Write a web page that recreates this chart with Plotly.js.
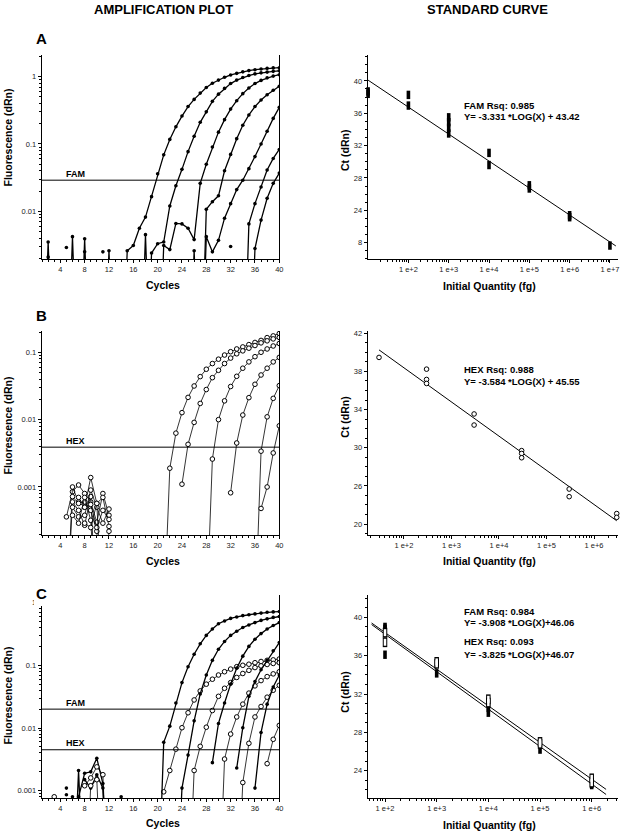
<!DOCTYPE html>
<html><head><meta charset="utf-8">
<script src="https://cdn.plot.ly/plotly-3.0.1.min.js"></script>
<style>html,body{margin:0;padding:0;background:#fff;}#chart{width:620px;height:833px;}</style>
</head><body><div id="chart"></div>
<script>
// ---------- DATA ----------
const LOW = 1e-5; // reading that falls below the axis floor

// Panel A amplification (FAM) : first cycle + fluorescence values per cycle
const ampA1 = {start:14, v:[LOW,0.0026,0.0031,0.0056,0.0082,0.0165,0.036,0.069,0.117,0.18,0.26,0.36,0.46,0.57,0.69,0.80,0.89,0.98,1.06,1.12,1.18,1.23,1.27,1.30,1.33,1.35,1.36]};
const ampA2 = {start:18, v:[LOW,0.0024,0.0033,0.0035,0.012,0.024,0.042,0.077,0.13,0.21,0.30,0.43,0.55,0.67,0.79,0.89,0.97,1.04,1.10,1.14,1.17,1.20,1.22]};
const ampA3 = {start:20, v:[LOW,0.0031,0.0027,0.0066,0.0065,0.0056,0.0038,0.026,0.05,0.09,0.15,0.23,0.33,0.44,0.56,0.68,0.79,0.88,0.96,1.02,1.07]};
const ampA4 = {start:25, v:[LOW,0.0026,LOW,0.0107,0.0139,0.017,0.04,0.07,0.12,0.19,0.27,0.36,0.45,0.54,0.63,0.72]};
const ampA5 = {start:27, v:[LOW,0.0042,0.0025,0.0037,0.0079,0.013,0.021,0.029,0.043,0.065,0.10,0.155,0.24,0.35]};
const ampA6 = {start:34, v:[LOW,0.0065,0.013,0.023,0.041,0.061,0.083]};
const ampA7 = {start:35, v:[LOW,0.0028,0.0074,0.0156,0.026,0.037]};
const noiseA = [
  {start:1, v:[LOW,0.0035,LOW]}, {start:2, v:[0.0021]}, {start:5, v:[0.0029]},
  {start:5, v:[LOW,0.0042,LOW]}, {start:7, v:[LOW,0.0039,LOW]}, {start:8, v:[0.0025]},
  {start:11, v:[0.0025]}, {start:11, v:[LOW,0.0026,LOW]}, {start:17, v:[LOW,0.0045,LOW]},
  {start:32, v:[0.0030]}
];
const thrA_FAM = 0.029;

// Panel B amplification (HEX)
const ampB1 = {start:21, v:[LOW,0.0019,0.0063,0.0127,0.0214,0.0316,0.0435,0.056,0.068,0.079,0.091,0.102,0.112,0.12,0.13,0.14,0.15,0.165,0.175,0.19]};
const ampB2 = {start:24, v:[0.0011,0.0043,0.0091,0.0174,0.028,0.042,0.054,0.068,0.082,0.095,0.105,0.115,0.126,0.138,0.148,0.158,0.166]};
const ampB3 = {start:28, v:[LOW,0.0026,0.010,0.019,0.031,0.044,0.058,0.072,0.086,0.10,0.112,0.124,0.135]};
const ampB4 = {start:32, v:[0.00082,0.0045,0.0117,0.0212,0.0335,0.046,0.058,0.072,0.084]};
const ampB5 = {start:36, v:[LOW,0.0034,0.011,0.0207,0.032]};
const ampB6 = {start:37, v:[0.00048,0.001,0.0032,0.0081]};
const noiseB = [
  {start:5, v:[0.00036,0.00085,0.00107,0.0008,0.0006,0.0003,0.0008,0.00038]},
  {start:5, v:[LOW,0.001,0.0006,0.0005,0.00138,0.00057,0.0007,0.00026]},
  {start:5, v:[LOW,0.0006,0.00045,0.00027,0.00072,LOW]},
  {start:6, v:[0.00072,0.00057,0.0006,0.00045,0.00022,LOW]},
  {start:6, v:[0.0005,0.00036,0.00038,0.0009,0.0005,0.00029,0.00047]},
  {start:6, v:[0.00038,0.00029,0.0007,0.00032,LOW]},
  {start:7, v:[0.0007,0.0005,0.00055,0.00025,0.00045,0.00033]},
  {start:8, v:[0.00029,0.00025,0.00057,LOW,0.00022]}
];
const thrB_HEX = 0.0039;

// Panel C amplification (FAM filled, HEX open)
const ampC_F1 = {start:20, v:[LOW,0.0059,0.0107,0.025,0.053,0.095,0.15,0.22,0.30,0.38,0.46,0.51,0.56,0.59,0.62,0.64,0.66,0.68,0.70,0.71,0.72]};
const ampC_F2 = {start:23, v:[LOW,0.0011,0.0037,0.013,0.035,0.07,0.12,0.18,0.24,0.30,0.35,0.40,0.44,0.48,0.52,0.55,0.58,0.60]};
const ampC_F3 = {start:29, v:[0.0028,0.0118,0.025,0.05,0.09,0.14,0.20,0.26,0.32,0.38,0.43,0.48]};
const ampC_F4 = {start:33, v:[0.0023,0.0101,0.032,0.055,0.085,0.12,0.17,0.23]};
const ampC_F5 = {start:36, v:[0.0011,0.0085,0.024,0.045,0.07]};
const ampC_H1 = {start:21, v:[0.00096,0.0021,0.0046,0.0101,0.0175,0.028,0.039,0.05,0.06,0.07,0.079,0.087,0.095,0.10,0.104,0.11,0.115,0.12,0.122,0.126]};
const ampC_H2 = {start:25, v:[LOW,0.0021,0.0051,0.0103,0.019,0.032,0.043,0.053,0.064,0.074,0.083,0.092,0.098,0.103,0.107,0.11]};
const ampC_H3 = {start:30, v:[LOW,0.0032,0.008,0.015,0.024,0.036,0.047,0.057,0.066,0.073,0.079]};
const ampC_H4 = {start:33, v:[LOW,0.00135,0.0057,0.015,0.022,0.031,0.04,0.048]};
const ampC_H5 = {start:38, v:[0.0027,0.0066,0.011]};
const noiseC_F = [
  {start:5, v:[0.0011]}, {start:5, v:[0.00086]}, {start:6, v:[0.0008]},
  {start:6, v:[LOW,0.0021,LOW]},
  {start:7, v:[0.0008,0.0019,0.002,0.0033,0.0013,LOW]},
  {start:8, v:[0.0015,0.0011,0.0018,0.0011,LOW]},
  {start:14, v:[0.0008]}
];
const noiseC_H = [
  {start:3, v:[0.0008]},
  {start:8, v:[0.0012,0.0016,0.0024,0.0018,LOW]},
  {start:8, v:[LOW,0.0012,0.0015,LOW]}
];
const thrC_FAM = 0.020;
const thrC_HEX = 0.0045;

// Standard curves
const stdA_qty = [10,10,100,100,1e3,1e3,1e3,1e3,1e4,1e4,1e5,1e5,1e6,1e6,1e7];
const stdA_ct  = [38.7,38.4,38.27,36.95,35.5,34.9,34.2,33.5,31.1,29.6,27.1,26.7,23.4,23.15,19.65];
const fitA_qty = [10,1.4e7];
const fitA_ct  = [40.09,19.6];

const stdB_qty = [30,300,300,300,3e3,3e3,3e4,3e4,3e4,3e5,3e5,3e6,3e6];
const stdB_ct  = [39.47,38.24,37.16,36.74,33.54,32.38,29.7,29.4,28.95,25.67,24.87,23.1,22.7];
const fitB_qty = [30,3e6];
const fitB_ct  = [40.26,22.34];

const stdC_FAM_qty = [100,100,100,1e3,1e4,1e4,1e5,1e6];
const stdC_FAM_ct  = [39.0,38.8,36.1,34.15,30.55,30.05,26.2,22.5];
const stdC_HEX_qty = [100,100,1e3,1e3,1e4,1e4,1e5,1e5,1e6,1e6];
const stdC_HEX_ct  = [38.4,37.4,35.35,35.15,31.45,31.1,27.0,26.8,23.2,22.75];
const fitC_qty = [55,1.9e6];
const fitC_FAM_ct = [39.25,21.52];
const fitC_HEX_ct = [39.41,22.05];

const cycleTicks = [4,8,12,16,20,24,28,32,36,40];
const fluorTicks = [0.001,0.01,0.1,1];
const fluorTickText = ['0.001','0.01','0.1','1'];
const qtyTicks = [1e2,1e3,1e4,1e5,1e6,1e7];
const qtyTickText = ['1 e+2','1 e+3','1 e+4','1 e+5','1 e+6','1 e+7'];
const ctTicksA = [20,24,28,32,36,40], ctTextA = ['8','24','28','32','36','40'];
const ctTicksB = [22,26,30,34,38,42], ctTextB = ['20','26','30','34','38','42'];
const ctTicksC = [24,28,32,36,40],   ctTextC = ['24','28','32','36','40'];

// ---------- STYLE / LAYOUT ----------
const FONT = 'Liberation Sans, Arial, Helvetica, sans-serif';
const W = 620, H = 833;
const PX = p => p / W, PY = p => 1 - p / H;
const AMP_X0 = 0.94, AMP_X1 = 40;

function logMinor(lo, hi){ const a=[]; for(let e=lo;e<=hi;e++) for(let m=2;m<=9;m++) a.push(m*Math.pow(10,e)); return a; }

const traces = [];
function ampCurve(obj, xa, ya, kind){
  const x = obj.v.map((_, i) => obj.start + i);
  const fam = kind === 'fam';
  traces.push({type:'scatter', mode:'lines+markers', x, y:obj.v, xaxis:xa, yaxis:ya,
    showlegend:false, hoverinfo:'skip',
    line:{color:'#000', width: fam ? 1.3 : 0.8},
    marker: fam ? {symbol:'circle', size:3.6, color:'#000'}
                : {symbol:'circle', size:4.6, color:'#fff', line:{color:'#000', width:1}}});
}
function threshold(val, xa, ya){
  traces.push({type:'scatter', mode:'lines', x:[AMP_X0, AMP_X1], y:[val,val], xaxis:xa, yaxis:ya,
    showlegend:false, hoverinfo:'skip', line:{color:'#000', width:1}});
}
function bars(qty, ct, xa, ya, hollow){
  traces.push({type:'scatter', mode:'markers', x:qty, y:ct, xaxis:xa, yaxis:ya, cliponaxis:false,
    showlegend:false, hoverinfo:'skip',
    marker:{symbol:'line-ns', size: hollow ? 7 : 6, line:{color:'#000', width: hollow ? 4.5 : 3.6}}});
  if (hollow) traces.push({type:'scatter', mode:'markers', x:qty, y:ct, xaxis:xa, yaxis:ya, cliponaxis:false,
    showlegend:false, hoverinfo:'skip',
    marker:{symbol:'line-ns', size:5, line:{color:'#fff', width:2.5}}});
}
function fit(qty, ct, xa, ya){
  traces.push({type:'scatter', mode:'lines', x:qty, y:ct, xaxis:xa, yaxis:ya, showlegend:false,
    hoverinfo:'skip', line:{color:'#000', width:1}});
}

// Panel A
noiseA.forEach(n => ampCurve(n, 'x', 'y', 'fam'));
[ampA1,ampA2,ampA3,ampA4,ampA5,ampA6,ampA7].forEach(c => ampCurve(c, 'x', 'y', 'fam'));
threshold(thrA_FAM, 'x', 'y');
fit(fitA_qty, fitA_ct, 'x2', 'y2');
bars(stdA_qty, stdA_ct, 'x2', 'y2', false);

// Panel B
noiseB.forEach(n => ampCurve(n, 'x3', 'y3', 'hex'));
[ampB1,ampB2,ampB3,ampB4,ampB5,ampB6].forEach(c => ampCurve(c, 'x3', 'y3', 'hex'));
threshold(thrB_HEX, 'x3', 'y3');
fit(fitB_qty, fitB_ct, 'x4', 'y4');
traces.push({type:'scatter', mode:'markers', x:stdB_qty, y:stdB_ct, xaxis:'x4', yaxis:'y4', cliponaxis:false,
  showlegend:false, hoverinfo:'skip', marker:{symbol:'circle', size:4.6, color:'#fff', line:{color:'#000', width:1}}});

// Panel C
noiseC_F.forEach(n => ampCurve(n, 'x5', 'y5', 'fam'));
noiseC_H.forEach(n => ampCurve(n, 'x5', 'y5', 'hex'));
[ampC_H1,ampC_H2,ampC_H3,ampC_H4,ampC_H5].forEach(c => ampCurve(c, 'x5', 'y5', 'hex'));
[ampC_F1,ampC_F2,ampC_F3,ampC_F4,ampC_F5].forEach(c => ampCurve(c, 'x5', 'y5', 'fam'));
threshold(thrC_FAM, 'x5', 'y5');
threshold(thrC_HEX, 'x5', 'y5');
fit(fitC_qty, fitC_FAM_ct, 'x6', 'y6');
fit(fitC_qty, fitC_HEX_ct, 'x6', 'y6');
bars(stdC_FAM_qty, stdC_FAM_ct, 'x6', 'y6', false);
bars(stdC_HEX_qty, stdC_HEX_ct, 'x6', 'y6', true);

const base = {showline:true, linecolor:'#000', linewidth:1, ticks:'outside', ticklen:3, tickwidth:1,
  tickcolor:'#000', showgrid:false, zeroline:false, fixedrange:true,
  tickfont:{family:FONT, size:7.5, color:'#222'}};
const ampDom = [PX(41.7), PX(279.3)], stdDom = [PX(367.7), PX(618)];
const rowA = [PY(259.3), PY(55)], rowB = [PY(535), PY(331)], rowC = [PY(798.3), PY(595)];

function ampX(anchor){ return Object.assign({}, base, {domain:ampDom, anchor, range:[AMP_X0, AMP_X1],
  tickmode:'array', tickvals:cycleTicks, ticktext:cycleTicks.map(String),
  minor:{ticks:'outside', ticklen:2, tickwidth:1, tickcolor:'#000', dtick:1, tick0:0}}); }
function ampY(anchor, dom, range){ return Object.assign({}, base, {domain:dom, anchor, type:'log', range,
  tickmode:'array', tickvals:fluorTicks, ticktext:fluorTickText, mirror:true,
  minor:{ticks:'outside', ticklen:2, tickwidth:1, tickcolor:'#000', tickmode:'array', tickvals:logMinor(-4,0)}}); }
function stdX(anchor, range){ return Object.assign({}, base, {domain:stdDom, anchor, type:'log', range,
  tickmode:'array', tickvals:qtyTicks, ticktext:qtyTickText,
  minor:{ticks:'outside', ticklen:2, tickwidth:1, tickcolor:'#000', tickmode:'array', tickvals:logMinor(0,7)}}); }
function stdY(anchor, dom, range, tv, tt){ return Object.assign({}, base, {domain:dom, anchor, range,
  tickmode:'array', tickvals:tv, ticktext:tt,
  minor:{ticks:'outside', ticklen:2, tickwidth:1, tickcolor:'#000', dtick:1, tick0:0}}); }

function ann(text, x, y, size, opts){
  return Object.assign({text, x:PX(x), y:PY(y), xref:'paper', yref:'paper', showarrow:false,
    xanchor:'center', yanchor:'middle', font:{family:FONT, size, color:'#000'}}, opts||{});
}
const annotations = [
  ann('<b>AMPLIFICATION PLOT</b>', 163, 9.5, 13),
  ann('<b>STANDARD CURVE</b>', 487, 9.5, 13),
  ann('<b>A</b>', 41.7, 38, 15), ann('<b>B</b>', 41.7, 315, 15), ann('<b>C</b>', 41.7, 593, 15),
  ann('<b>Fluorescence (dRn)</b>', 7.5, 138, 10.5, {textangle:-90}),
  ann('<b>Fluorescence (dRn)</b>', 7.5, 426, 10.5, {textangle:-90}),
  ann('<b>Fluorescence (dRn)</b>', 7.5, 696, 10.5, {textangle:-90}),
  ann('<b>Cycles</b>', 163, 285, 10.5), ann('<b>Cycles</b>', 163, 561, 10.5), ann('<b>Cycles</b>', 163, 823, 10.5),
  ann('<b>Ct (dRn)</b>', 345, 150, 10.5, {textangle:-90}),
  ann('<b>Ct (dRn)</b>', 345, 416.7, 10.5, {textangle:-90}),
  ann('<b>Ct (dRn)</b>', 345, 691.7, 10.5, {textangle:-90}),
  ann('<b>Initial Quantity (fg)</b>', 489, 286, 10.5),
  ann('<b>Initial Quantity (fg)</b>', 489, 561, 10.5),
  ann('<b>Initial Quantity (fg)</b>', 489, 825, 10.5),
  ann('<b>FAM</b>', 64.3, 174, 9, {xanchor:'left'}),
  ann('<b>HEX</b>', 64.3, 440.7, 9, {xanchor:'left'}),
  ann('<b>FAM</b>', 64.3, 702.7, 9, {xanchor:'left'}),
  ann('<b>HEX</b>', 64.3, 742.7, 9, {xanchor:'left'}),
  ann('<b>FAM Rsq: 0.985</b>', 461.7, 105.3, 9.5, {xanchor:'left'}),
  ann('<b>Y= -3.331 *LOG(X) + 43.42</b>', 461.7, 116.7, 9.5, {xanchor:'left'}),
  ann('<b>HEX Rsq: 0.988</b>', 461.7, 370, 9.5, {xanchor:'left'}),
  ann('<b>Y= -3.584 *LOG(X) + 45.55</b>', 461.7, 381.3, 9.5, {xanchor:'left'}),
  ann('<b>FAM Rsq: 0.984</b>', 461.7, 611, 9.5, {xanchor:'left'}),
  ann('<b>Y= -3.908 *LOG(X)+46.06</b>', 461.7, 622.7, 9.5, {xanchor:'left'}),
  ann('<b>HEX Rsq: 0.093</b>', 461.7, 641.7, 9.5, {xanchor:'left'}),
  ann('<b>Y= -3.825 *LOG(X)+46.07</b>', 461.7, 654, 9.5, {xanchor:'left'})
];

// in panel C the left axis line starts a little below the top of the plot (as in the original)
const shapes = [{type:'rect', xref:'paper', yref:'paper', layer:'above',
  x0:PX(34), x1:PX(44), y0:PY(606), y1:PY(594), fillcolor:'#fff', line:{width:0}}];

const layout = {
  width:W, height:H, margin:{l:0, r:0, t:0, b:0}, paper_bgcolor:'#fff', plot_bgcolor:'#fff',
  showlegend:false, font:{family:FONT, color:'#000'},
  xaxis:  ampX('y'),
  yaxis:  ampY('x', rowA, [-2.713, 0.322]),
  xaxis2: stdX('y2', [0.99, 7.2]),
  yaxis2: stdY('x2', rowA, [17.95, 43.2], ctTicksA, ctTextA),
  xaxis3: ampX('y3'),
  yaxis3: ampY('x3', rowB, [-3.713, -0.684]),
  xaxis4: stdX('y4', [1.239, 6.504]),
  yaxis4: stdY('x4', rowB, [20.85, 42.24], ctTicksB, ctTextB),
  xaxis5: ampX('y5'),
  yaxis5: ampY('x5', rowC, [-3.121, 0.121]),
  xaxis6: stdX('y6', [1.665, 6.509]),
  yaxis6: stdY('x6', rowC, [21.12, 42.33], ctTicksC, ctTextC),
  annotations, shapes
};
Plotly.newPlot('chart', traces, layout, {staticPlot:true, displayModeBar:false});
</script></body></html>
